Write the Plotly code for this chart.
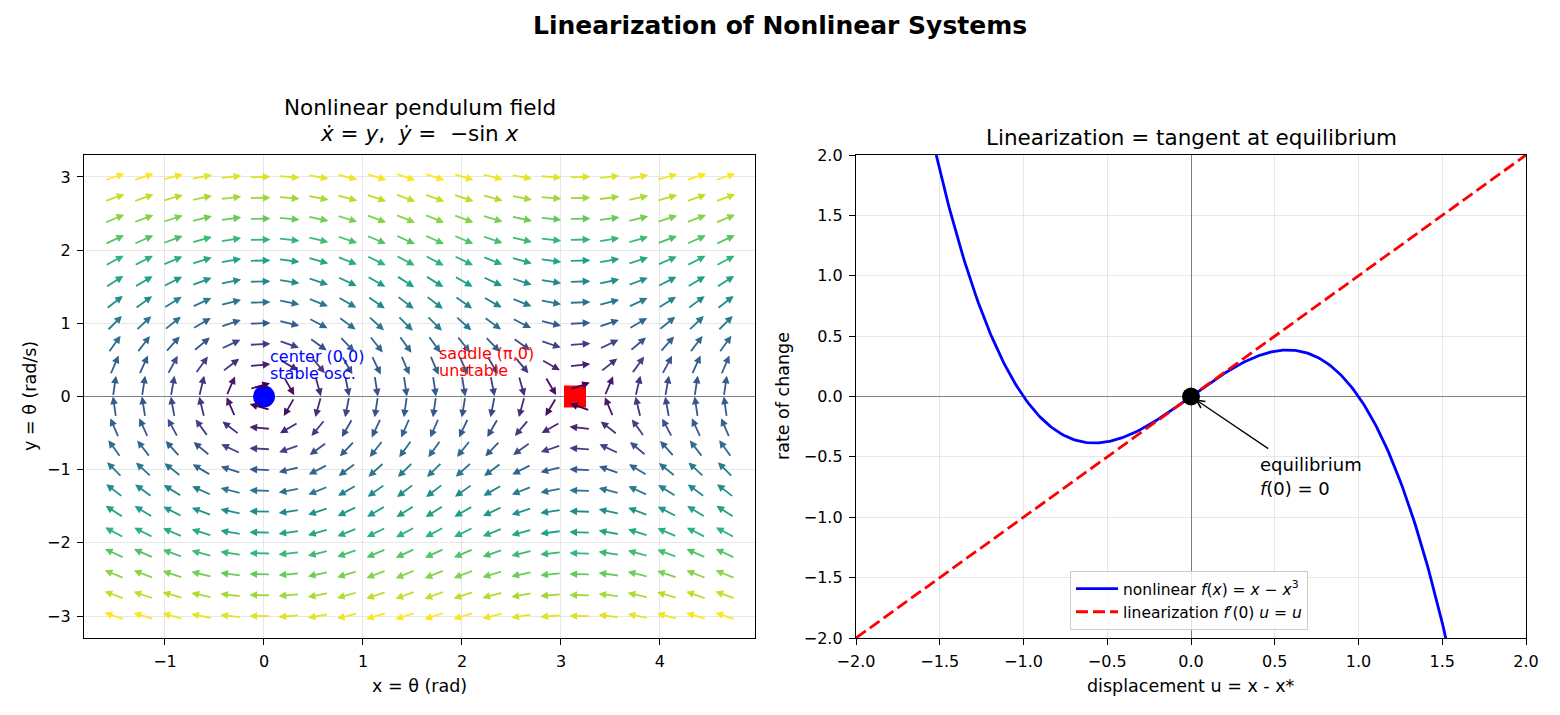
import numpy as np
import plotly.graph_objects as go
from plotly.colors import sample_colorscale

# ---------------- data ----------------
theta_cols = [-1.510, -1.216, -0.922, -0.629, -0.335, -0.041, 0.253, 0.547, 0.840, 1.134,
              1.428, 1.722, 2.016, 2.309, 2.603, 2.897, 3.191, 3.485, 3.778, 4.072, 4.366, 4.660]
omega_rows = [-3.000, -2.714, -2.429, -2.143, -1.857, -1.571, -1.286, -1.000, -0.714, -0.429, -0.143,
              0.143, 0.429, 0.714, 1.000, 1.286, 1.571, 1.857, 2.143, 2.429, 2.714, 3.000]
center_pt = [0.0, 0.0]
saddle_pt = [np.pi, 0.0]
equil_pt = [0.0, 0.0]
u_samples = np.linspace(-2.0, 2.0, 401)

left_xticks = [-1, 0, 1, 2, 3, 4]
left_yticks = [-3, -2, -1, 0, 1, 2, 3]
right_ticks = [-2.0, -1.5, -1.0, -0.5, 0.0, 0.5, 1.0, 1.5, 2.0]

# ---------------- layout geometry ----------------
W, H = 1560, 715
FONT = "DejaVu Sans"
LX = [84 / W, 755 / W]
RX = [856 / W, 1526 / W]
DY = [(H - 638) / H, (H - 155) / H]
xr1 = [-1.818, 4.96]
yr1 = [-3.3, 3.3]
xr2 = [-2.0, 2.0]
yr2 = [-2.0, 2.0]
px_x1 = (755 - 84) / (xr1[1] - xr1[0])
px_y1 = (638 - 155) / (yr1[1] - yr1[0])
ARROW_LEN = 21.0  # px

fig = go.Figure()

# ---------------- left: markers ----------------
fig.add_trace(go.Scatter(x=[center_pt[0]], y=[center_pt[1]], mode="markers",
                         marker=dict(color="#0000ff", size=22, symbol="circle"),
                         showlegend=False, xaxis="x", yaxis="y"))
fig.add_trace(go.Scatter(x=[saddle_pt[0]], y=[saddle_pt[1]], mode="markers",
                         marker=dict(color="#ff0000", size=22, symbol="square"),
                         showlegend=False, xaxis="x", yaxis="y"))

# ---------------- right: curves ----------------
f_nl = u_samples - u_samples ** 3
fig.add_trace(go.Scatter(x=u_samples, y=f_nl, mode="lines",
                         line=dict(color="#0000ff", width=2.8),
                         name="nonlinear <i>f</i>(<i>x</i>) = <i>x</i> − <i>x</i><sup>3</sup>",
                         xaxis="x2", yaxis="y2"))
fig.add_trace(go.Scatter(x=u_samples, y=u_samples, mode="lines",
                         line=dict(color="#ff0000", width=2.8, dash="12px,5px"),
                         name="linearization <i>f</i>′(0) <i>u</i> = <i>u</i>",
                         xaxis="x2", yaxis="y2"))
fig.add_trace(go.Scatter(x=[equil_pt[0]], y=[equil_pt[1]], mode="markers",
                         marker=dict(color="black", size=18),
                         showlegend=False, xaxis="x2", yaxis="y2"))

annotations = []

# ---------------- quiver arrows (field from the chart's equations) ----------------
mags = []
for yv in omega_rows:
    for xv in theta_cols:
        mags.append(np.hypot(yv, np.sin(xv)))
mmin, mmax = min(mags), max(mags)
for yv in omega_rows:
    for xv in theta_cols:
        u = yv
        v = -np.sin(xv)
        m = np.hypot(u, v)
        col = sample_colorscale("Viridis", [(m - mmin) / (mmax - mmin)])[0]
        hx = 0.5 * ARROW_LEN * (u / m) / px_x1
        hy = 0.5 * ARROW_LEN * (v / m) / px_y1
        annotations.append(dict(x=xv + hx, y=yv + hy, ax=xv - hx, ay=yv - hy,
                                xref="x", yref="y", axref="x", ayref="y",
                                text="", showarrow=True, arrowhead=2, arrowsize=0.85,
                                arrowwidth=1.8, arrowcolor=col, standoff=0))

# ---------------- text annotations ----------------
def txt(text, x, y, xref, yref, size, color="black", xanchor="center", yanchor="middle",
        angle=0, bold=False):
    return dict(text=("<b>%s</b>" % text) if bold else text, x=x, y=y, xref=xref, yref=yref,
                showarrow=False, xanchor=xanchor, yanchor=yanchor, textangle=angle,
                font=dict(family=FONT, size=size, color=color))

annotations += [
    txt("center (0,0)", 0.04, 0.54, "x", "y", 16, "#0000ff", xanchor="left"),
    txt("stable osc.", 0.04, 0.31, "x", "y", 16, "#0000ff", xanchor="left"),
    txt("saddle (π,0)", 1.75, 0.59, "x", "y", 16, "#ff0000", xanchor="left"),
    txt("unstable", 1.75, 0.36, "x", "y", 16, "#ff0000", xanchor="left"),
    txt("equilibrium", 0.40, -0.567, "x2", "y2", 18, xanchor="left"),
    txt("<i>f</i>(0) = 0", 0.40, -0.758, "x2", "y2", 18, xanchor="left"),
    txt("Linearization of Nonlinear Systems", 0.5, (H - 25) / H, "paper", "paper", 25, bold=True),
    txt("Nonlinear pendulum field", sum(LX) / 2, (H - 108) / H, "paper", "paper", 21.5),
    txt("<i>x\u0307</i> = <i>y</i>,  <i>y\u0307</i> =  −sin <i>x</i>", sum(LX) / 2, (H - 134) / H,
        "paper", "paper", 21.5),
    txt("Linearization = tangent at equilibrium", sum(RX) / 2, (H - 137) / H, "paper", "paper", 21.5),
    txt("x = θ (rad)", sum(LX) / 2, (H - 686) / H, "paper", "paper", 17.5),
    txt("displacement u = x - x*", sum(RX) / 2, (H - 686) / H, "paper", "paper", 17.5),
    txt("y = θ (rad/s)", 30 / W, (H - 396) / H, "paper", "paper", 17.5, angle=-90),
    txt("rate of change", 783 / W, (H - 396) / H, "paper", "paper", 17.5, angle=-90),
]
# annotation arrow to equilibrium
annotations.append(dict(x=equil_pt[0], y=equil_pt[1], ax=0.47, ay=-0.44,
                        xref="x2", yref="y2", axref="x2", ayref="y2",
                        text="", showarrow=True, arrowhead=5, arrowsize=1.2,
                        arrowwidth=1.3, arrowcolor="black", standoff=5))

axis_common = dict(showgrid=True, gridcolor="rgba(176,176,176,0.3)", gridwidth=1.3,
                   showline=True, mirror=True, linecolor="black", linewidth=1.3,
                   ticks="outside", ticklen=6, tickwidth=1.3, tickcolor="black",
                   tickfont=dict(family=FONT, size=16, color="black"),
                   ticklabelstandoff=3, automargin=False)

fig.update_layout(
    width=W, height=H, autosize=False,
    margin=dict(l=0, r=0, t=0, b=0, autoexpand=False),
    paper_bgcolor="white", plot_bgcolor="white",
    font=dict(family=FONT, size=16, color="black"),
    xaxis=dict(domain=LX, range=xr1, tickvals=left_xticks, zeroline=False, anchor="y",
               **axis_common),
    yaxis=dict(domain=DY, range=yr1, tickvals=left_yticks, zeroline=True,
               zerolinecolor="#808080", zerolinewidth=1.2, anchor="x", **axis_common),
    xaxis2=dict(domain=RX, range=xr2, tickvals=right_ticks, tickformat=".1f", zeroline=True,
                zerolinecolor="#808080", zerolinewidth=1.2, anchor="y2", **axis_common),
    yaxis2=dict(domain=DY, range=yr2, tickvals=right_ticks, tickformat=".1f", zeroline=True,
                zerolinecolor="#808080", zerolinewidth=1.2, anchor="x2", **axis_common),
    legend=dict(x=1070 / W, y=(H - 630) / H, xanchor="left", yanchor="bottom",
                bgcolor="rgba(255,255,255,0.8)", bordercolor="#cccccc", borderwidth=1,
                itemwidth=42,
                font=dict(family=FONT, size=15.5, color="black")),
    annotations=annotations,
    showlegend=True,
)

fig.write_html("out.html")
